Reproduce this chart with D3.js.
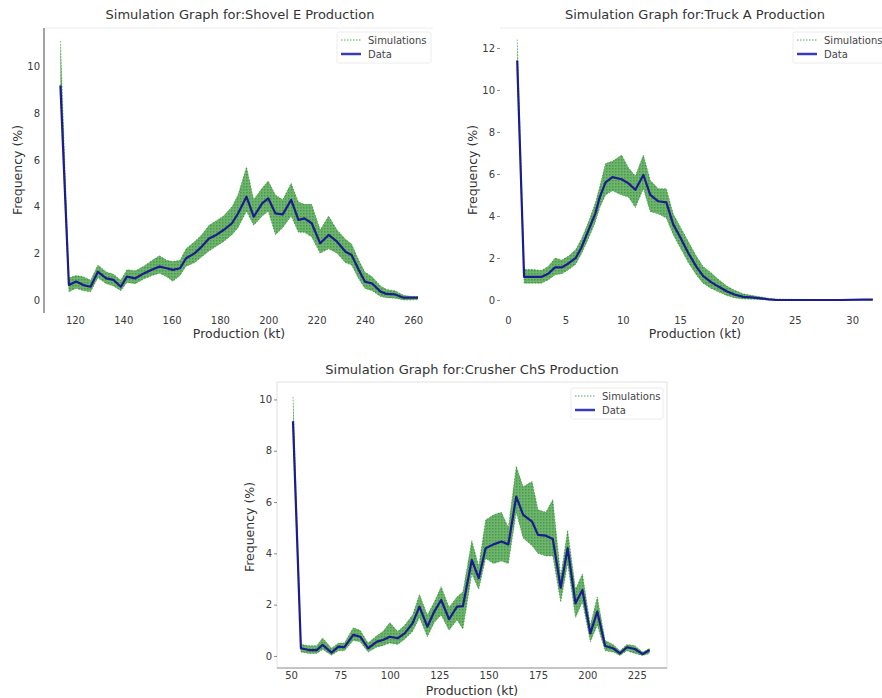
<!DOCTYPE html>
<html>
<head>
<meta charset="utf-8">
<script src="https://cdn.jsdelivr.net/npm/d3@7"></script>
<style>
    body { margin: 0; background: #fff; }
    svg { display: block; font-family: "DejaVu Sans", sans-serif; }
</style>
</head>
<body>
<div class="content"></div>
<script>
// Shovel E
var shovelX = [114, 117.5, 120.5, 123.5, 126.5, 129.5, 133, 136, 139, 141.5, 145, 148.5, 152, 155, 158, 160.5, 163.5, 166, 169.5, 172.5, 175.5, 178.5, 181.5, 185, 187.5, 191, 194, 197.5, 200, 203, 206, 209.5, 212.5, 215, 218, 221.5, 225, 228.5, 232, 234.5, 237.5, 240, 243, 246.5, 249, 252.5, 256, 259.5, 262];
var shovelData = [9.2, 0.64, 0.79, 0.64, 0.57, 1.21, 0.93, 0.86, 0.57, 1.0, 0.93, 1.14, 1.31, 1.43, 1.36, 1.29, 1.36, 1.79, 2.0, 2.29, 2.64, 2.79, 3.0, 3.29, 3.71, 4.43, 3.57, 4.14, 4.36, 3.71, 3.67, 4.29, 3.43, 3.5, 3.29, 2.43, 2.79, 2.5, 2.07, 1.93, 1.29, 0.79, 0.71, 0.36, 0.26, 0.24, 0.1, 0.1, 0.1];
var shovelSimHigh = [11.1, 0.95, 1.05, 1.0, 0.85, 1.5, 1.2, 1.1, 0.85, 1.3, 1.25, 1.45, 1.7, 1.9, 1.7, 1.65, 1.7, 2.2, 2.5, 2.8, 3.2, 3.4, 3.6, 4.0, 4.5, 5.7, 4.3, 4.8, 5.1, 4.5, 4.3, 5.0, 4.2, 4.1, 4.1, 3.0, 3.6, 3.0, 2.6, 2.4, 1.7, 1.2, 1.0, 0.6, 0.45, 0.4, 0.2, 0.15, 0.15];
var shovelSimLow = [8.9, 0.35, 0.5, 0.4, 0.35, 0.95, 0.7, 0.6, 0.4, 0.75, 0.7, 0.9, 1.05, 1.15, 1.0, 0.8, 1.05, 1.45, 1.6, 1.85, 2.1, 2.3, 2.5, 2.8, 3.1, 3.8, 3.2, 3.6, 3.8, 2.8, 3.1, 3.6, 2.9, 2.9, 2.7, 2.0, 2.2, 2.0, 1.6, 1.5, 0.9, 0.5, 0.4, 0.15, 0.1, 0.08, 0.0, 0.0, 0.02];
var shovelTicksX = [120, 140, 160, 180, 200, 220, 240, 260];
var shovelTicksY = [0, 2, 4, 6, 8, 10];

// Truck A
var truckX = [0.8, 1.4, 2.2, 2.9, 3.5, 4.1, 4.7, 5.3, 5.9, 6.4, 7.0, 7.6, 8.0, 8.5, 9.1, 9.9, 10.5, 11.1, 11.8, 12.4, 13.1, 13.8, 14.4, 15.0, 15.7, 16.4, 17.0, 17.7, 18.3, 19.1, 19.8, 20.5, 21.2, 22.0, 22.7, 23.4, 25, 27, 29, 31, 31.8];
var truckData = [11.4, 1.1, 1.1, 1.1, 1.25, 1.55, 1.55, 1.75, 2.0, 2.5, 3.3, 4.1, 4.9, 5.6, 5.85, 5.75, 5.55, 5.25, 5.95, 5.0, 4.7, 4.65, 3.6, 3.0, 2.25, 1.6, 1.15, 0.85, 0.65, 0.4, 0.25, 0.15, 0.12, 0.08, 0.03, 0.0, 0.0, 0.0, 0.0, 0.02, 0.02];
var truckSimHigh = [12.4, 1.45, 1.45, 1.4, 1.6, 2.0, 1.9, 2.1, 2.4, 2.9, 3.7, 4.6, 5.4, 6.5, 6.6, 6.9, 6.3, 5.9, 6.9, 5.7, 5.3, 5.3, 4.1, 3.5, 2.8, 2.1, 1.6, 1.3, 1.0, 0.65, 0.45, 0.3, 0.22, 0.15, 0.08, 0.05, 0.03, 0.02, 0.02, 0.03, 0.03];
var truckSimLow = [11.0, 0.8, 0.8, 0.8, 0.95, 1.2, 1.25, 1.45, 1.7, 2.2, 2.9, 3.7, 4.4, 5.0, 5.2, 5.0, 4.9, 4.4, 5.3, 4.2, 4.1, 3.9, 3.1, 2.5, 1.8, 1.2, 0.8, 0.55, 0.4, 0.2, 0.1, 0.05, 0.04, 0.02, 0.0, 0.0, 0.0, 0.0, 0.0, 0.0, 0.0];
var truckTicksX = [0, 5, 10, 15, 20, 25, 30];
var truckTicksY = [0, 2, 4, 6, 8, 10, 12];

// Crusher ChS
var crusherX = [51, 55, 59, 63, 66, 70.5, 74, 77, 81.5, 85, 89, 93.5, 96.5, 100, 104, 107.5, 111.5, 115, 119, 122.5, 126, 130, 134, 137, 141.5, 145, 148.5, 152.5, 156.5, 160, 164, 167.5, 172, 175, 179, 182.5, 186.5, 190, 194, 197.5, 201.5, 205, 209, 213, 216.5, 220, 224, 228, 231.5];
var crusherData = [9.15, 0.3, 0.23, 0.23, 0.43, 0.13, 0.36, 0.34, 0.82, 0.75, 0.3, 0.56, 0.62, 0.75, 0.69, 0.88, 1.27, 1.92, 1.14, 1.73, 2.18, 1.43, 1.92, 1.94, 3.74, 3.03, 4.2, 4.35, 4.46, 4.35, 6.21, 5.5, 5.24, 4.72, 4.69, 4.56, 2.66, 4.2, 2.05, 2.57, 0.88, 1.73, 0.39, 0.3, 0.1, 0.34, 0.27, 0.07, 0.23];
var crusherSimHigh = [10.1, 0.45, 0.4, 0.4, 0.7, 0.3, 0.5, 0.5, 1.1, 1.0, 0.5, 0.8, 0.95, 1.3, 0.95, 1.2, 1.6, 2.4, 1.6, 2.1, 2.7, 1.9, 2.3, 2.5, 4.5, 3.5, 5.3, 5.5, 5.6, 5.0, 7.4, 6.6, 6.8, 5.7, 5.6, 6.1, 3.1, 4.9, 2.6, 3.2, 1.2, 2.3, 0.6, 0.45, 0.2, 0.45, 0.4, 0.15, 0.3];
var crusherSimLow = [8.8, 0.15, 0.1, 0.1, 0.25, 0.03, 0.2, 0.2, 0.6, 0.55, 0.15, 0.35, 0.4, 0.5, 0.45, 0.65, 0.95, 1.5, 0.75, 1.3, 1.6, 1.0, 1.4, 1.05, 3.2, 2.6, 3.8, 3.6, 3.7, 3.6, 5.6, 4.6, 4.3, 4.0, 3.9, 3.9, 2.1, 3.6, 1.5, 2.1, 0.55, 1.2, 0.2, 0.15, 0.02, 0.2, 0.1, 0.02, 0.1];
var crusherTicksX = [50, 75, 100, 125, 150, 175, 200, 225];
var crusherTicksY = [0, 2, 4, 6, 8, 10];

var legendLabels = ["Simulations", "Data"];

(function (window) {
    'use strict';
    var svg, panels,
        simColor = "#0c820c",
        dataColor = "#1c1c8e";

    panels = [
        {
            title: "Simulation Graph for:Shovel E Production",
            x: shovelX, data: shovelData, hi: shovelSimHigh, lo: shovelSimLow,
            ticksX: shovelTicksX, ticksY: shovelTicksY,
            xDomain: [107.2, 268.2], xRange: [44, 433],
            yDomain: [-0.557, 11.66], yRange: [313, 28],
            titlePos: [240, 19], xLabelPos: [239, 338], yLabelPos: [22, 170],
            legend: {x: 337, y: 32, w: 94}, yTickSize: 0, frame: "left"
        },
        {
            title: "Simulation Graph for:Truck A Production",
            x: truckX, data: truckData, hi: truckSimHigh, lo: truckSimLow,
            ticksX: truckTicksX, ticksY: truckTicksY,
            xDomain: [-0.7, 32.6], xRange: [500, 882],
            yDomain: [-0.62, 12.95], yRange: [313, 28],
            titlePos: [695, 19], xLabelPos: [695, 338], yLabelPos: [477, 170],
            legend: {x: 793, y: 32, w: 100}, yTickSize: 3, frame: "top"
        },
        {
            title: "Simulation Graph for:Crusher ChS Production",
            x: crusherX, data: crusherData, hi: crusherSimHigh, lo: crusherSimLow,
            ticksX: crusherTicksX, ticksY: crusherTicksY,
            xDomain: [42.9, 240.3], xRange: [277, 667],
            yDomain: [-0.47, 10.68], yRange: [668, 382],
            titlePos: [472, 374], xLabelPos: [472, 695], yLabelPos: [254, 527],
            legend: {x: 571, y: 388, w: 92}, yTickSize: 3, frame: "box"
        }
    ];

    svg = d3.select(".content").append("svg")
        .attr("width", 882)
        .attr("height", 698);

    // speckle texture so the band reads as many thin dotted runs
    svg.append("defs").append("pattern")
        .attr("id", "speckle")
        .attr("width", 3).attr("height", 3)
        .attr("patternUnits", "userSpaceOnUse")
        .append("rect")
        .attr("width", 1.5).attr("height", 1.5)
        .attr("fill", "#066806");

    function drawFrame(g, p) {
        var x0 = p.xRange[0], x1 = p.xRange[1], y0 = p.yRange[0], y1 = p.yRange[1];
        if (p.frame === "left") {
            g.append("line").attr("x1", x0).attr("x2", x1).attr("y1", y1).attr("y2", y1)
                .attr("stroke", "#ececec");
            g.append("line").attr("x1", x0).attr("x2", x0).attr("y1", y1).attr("y2", y0)
                .attr("stroke", "#666").attr("stroke-width", 1.2);
        } else if (p.frame === "top") {
            g.append("line").attr("x1", x0).attr("x2", x1).attr("y1", y1).attr("y2", y1)
                .attr("stroke", "#ececec");
        } else {
            g.append("rect").attr("x", x0).attr("y", y1)
                .attr("width", x1 - x0).attr("height", y0 - y1)
                .attr("fill", "none").attr("stroke", "#e2e2e2");
            g.append("line").attr("x1", x0).attr("x2", x1).attr("y1", y0).attr("y2", y0)
                .attr("stroke", "#999");
        }
    }

    function drawAxes(g, p, x, y) {
        var ax, ay;
        ax = g.append("g")
            .attr("transform", "translate(0," + p.yRange[0] + ")")
            .call(d3.axisBottom(x).tickValues(p.ticksX).tickSize(0).tickPadding(4));
        ay = g.append("g")
            .attr("transform", "translate(" + p.xRange[0] + ",0)")
            .call(d3.axisLeft(y).tickValues(p.ticksY).tickSize(p.yTickSize).tickPadding(p.yTickSize ? 2 : 4));
        [ax, ay].forEach(function (a) {
            a.select(".domain").remove();
            a.selectAll("text").attr("fill", "#3a3a3a").attr("font-size", 10)
                .attr("font-family", "DejaVu Sans, sans-serif");
            a.selectAll("line").attr("stroke", "#888");
        });
    }

    function drawSeries(g, p, x, y) {
        var idx = d3.range(p.x.length), band, line;
        band = d3.area()
            .x(function (i) { return x(p.x[i]); })
            .y0(function (i) { return y(p.lo[i]); })
            .y1(function (i) { return y(p.hi[i]); });
        g.append("path").datum(idx)
            .attr("d", band)
            .attr("fill", simColor)
            .attr("fill-opacity", 0.6);
        g.append("path").datum(idx)
            .attr("d", band)
            .attr("fill", "url(#speckle)")
            .attr("fill-opacity", 0.35);
        ["hi", "lo"].forEach(function (k) {
            g.append("path").datum(idx)
                .attr("d", d3.line().x(function (i) { return x(p.x[i]); })
                    .y(function (i) { return y(p[k][i]); }))
                .attr("fill", "none")
                .attr("stroke", simColor)
                .attr("stroke-opacity", 0.5)
                .attr("stroke-width", 1)
                .attr("stroke-dasharray", "1.5,1.5");
        });
        line = d3.line()
            .x(function (i) { return x(p.x[i]); })
            .y(function (i) { return y(p.data[i]); });
        g.append("path").datum(idx)
            .attr("d", line)
            .attr("fill", "none")
            .attr("stroke", dataColor)
            .attr("stroke-width", 2.2)
            .attr("stroke-linejoin", "round");
    }

    function drawLegend(g, l) {
        var lg = g.append("g").attr("transform", "translate(" + l.x + "," + l.y + ")");
        lg.append("rect")
            .attr("width", l.w).attr("height", 31).attr("rx", 2)
            .attr("fill", "#fff").attr("stroke", "#ececec");
        legendLabels.forEach(function (label, i) {
            var yy = 8 + i * 14;
            lg.append("line")
                .attr("x1", 4).attr("x2", 24).attr("y1", yy).attr("y2", yy)
                .attr("stroke", i === 0 ? "#4caf4c" : "#3a3ab4")
                .attr("stroke-width", i === 0 ? 1 : 2.5)
                .attr("stroke-dasharray", i === 0 ? "1.5,1.5" : null);
            lg.append("text")
                .attr("x", 31).attr("y", yy + 3.5)
                .attr("font-size", 10).attr("fill", "#444")
                .text(label);
        });
    }

    panels.forEach(function (p) {
        var g = svg.append("g"),
            x = d3.scaleLinear().domain(p.xDomain).range(p.xRange),
            y = d3.scaleLinear().domain(p.yDomain).range(p.yRange);

        drawFrame(g, p);
        drawSeries(g, p, x, y);
        drawAxes(g, p, x, y);
        drawLegend(g, p.legend);

        g.append("text")
            .attr("x", p.titlePos[0]).attr("y", p.titlePos[1])
            .attr("text-anchor", "middle").attr("font-size", 13).attr("fill", "#333")
            .text(p.title);
        g.append("text")
            .attr("x", p.xLabelPos[0]).attr("y", p.xLabelPos[1])
            .attr("text-anchor", "middle").attr("font-size", 12.5).attr("fill", "#333")
            .text("Production (kt)");
        g.append("text")
            .attr("transform", "translate(" + p.yLabelPos[0] + "," + p.yLabelPos[1] + ") rotate(-90)")
            .attr("text-anchor", "middle").attr("font-size", 12.5).attr("fill", "#333")
            .text("Frequency (%)");
    });
}(window));
</script>
</body>
</html>
